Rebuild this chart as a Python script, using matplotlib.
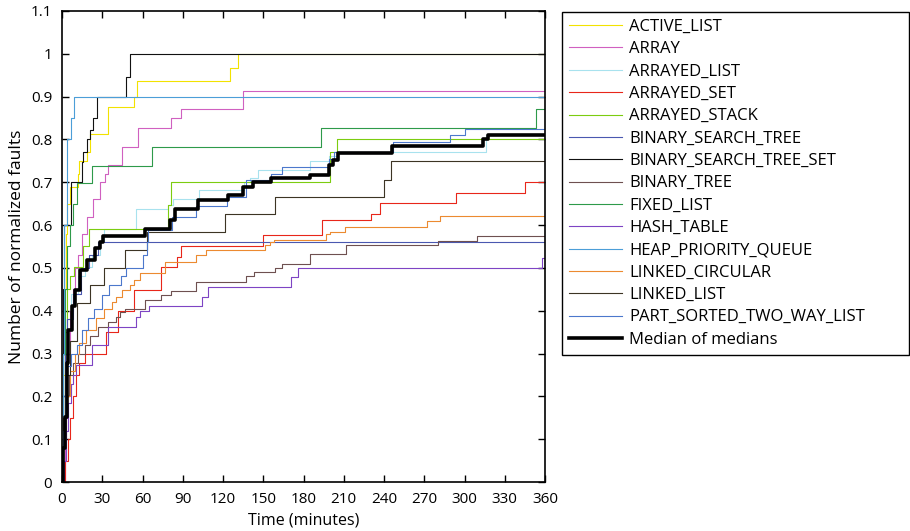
import numpy as np
import matplotlib
matplotlib.use("Agg")
import matplotlib.pyplot as plt
from matplotlib.ticker import FormatStrFormatter

plt.rcParams['font.family'] = ['Open Sans', 'DejaVu Sans']

# ------------------------------------------------------
# data, time in minutes
# ------------------------------------------------------

names = [
    "ACTIVE_LIST",
    "ARRAY",
    "ARRAYED_LIST",
    "ARRAYED_SET",
    "ARRAYED_STACK",
    "BINARY_SEARCH_TREE",
    "BINARY_SEARCH_TREE_SET",
    "BINARY_TREE",
    "FIXED_LIST",
    "HASH_TABLE",
    "HEAP_PRIORITY_QUEUE",
    "LINKED_CIRCULAR",
    "LINKED_LIST",
    "PART_SORTED_TWO_WAY_LIST",
]

active_list_t = [0, 1, 2, 3, 4, 6, 12, 13, 19, 21, 34, 54, 56, 125, 131, 360]
active_list_v = [0, 0.25, 0.45, 0.58, 0.65, 0.69, 0.72, 0.75, 0.77, 0.812, 0.875, 0.90, 0.937, 0.968, 1.0, 1.0]

array_t = [0, 2, 4, 6, 8, 10, 12, 15, 19, 23, 28, 32, 34, 45, 57, 81, 89, 135, 360]
array_v = [0, 0.15, 0.3, 0.4, 0.45, 0.5, 0.53, 0.58, 0.62, 0.66, 0.70, 0.72, 0.74, 0.783, 0.827, 0.849, 0.871, 0.914, 0.914]

arrayed_list_t = [0, 1, 2, 4, 7, 12, 17, 22, 28, 31, 55, 79, 83, 102, 136, 140, 146, 185, 199, 205, 316, 360]
arrayed_list_v = [0, 0.2, 0.3, 0.38, 0.44, 0.48, 0.503, 0.53, 0.56, 0.59, 0.637, 0.647, 0.661, 0.682, 0.70, 0.71, 0.729, 0.75, 0.762, 0.771, 0.81, 0.81]

arrayed_set_t = [0, 2, 4.3, 6, 8, 10.5, 13, 17, 33, 42, 54, 74, 86, 89, 150, 194, 230, 237, 294, 345, 360]
arrayed_set_v = [0, 0.05, 0.10, 0.15, 0.20, 0.25, 0.277, 0.30, 0.351, 0.40, 0.448, 0.503, 0.525, 0.55, 0.577, 0.612, 0.626, 0.651, 0.676, 0.70, 0.70]

arrayed_stack_t = [0, 1, 2, 4, 6, 9, 16, 20, 79, 81, 200, 204.7, 360]
arrayed_stack_v = [0, 0.2, 0.35, 0.45, 0.48, 0.503, 0.55, 0.59, 0.647, 0.70, 0.77, 0.80, 0.80]

bst_t = [0, 1, 2, 4, 8, 14, 20, 27, 360]
bst_v = [0, 0.2, 0.3, 0.38, 0.44, 0.5, 0.53, 0.561, 0.561]

bst_set_t = [0, 0.5, 1.5, 6.7, 14.6, 16, 18.4, 21, 23, 25.8, 47.7, 51, 360]
bst_set_v = [0, 0.45, 0.6, 0.70, 0.748, 0.77, 0.80, 0.822, 0.85, 0.90, 0.947, 1.0, 1.0]

binary_tree_t = [0, 1, 3, 5, 8, 12, 17, 21, 27, 34.5, 40, 43, 47, 62, 74, 81, 100, 137, 143, 159, 164, 185, 212, 280, 309, 360]
binary_tree_v = [0, 0.1, 0.2, 0.25, 0.277, 0.30, 0.32, 0.34, 0.363, 0.374, 0.386, 0.398, 0.404, 0.425, 0.437, 0.447, 0.468, 0.48, 0.49, 0.50, 0.51, 0.532, 0.553, 0.564, 0.575, 0.575]

fixed_list_t = [0, 1, 2, 4, 6, 8, 11, 22, 67, 193, 353, 360]
fixed_list_v = [0, 0.3, 0.45, 0.55, 0.6, 0.65, 0.698, 0.739, 0.783, 0.826, 0.87, 0.87]

hash_table_t = [0, 1.5, 3, 4.5, 6.5, 8, 10.5, 22, 34, 55, 58, 65, 104, 109, 171, 176, 358, 360]
hash_table_v = [0, 0.05, 0.12, 0.184, 0.23, 0.25, 0.273, 0.32, 0.363, 0.386, 0.40, 0.41, 0.433, 0.456, 0.478, 0.50, 0.524, 0.524]

heap_pq_t = [0, 0.5, 1.5, 3.5, 7, 9.2, 360]
heap_pq_v = [0, 0.3, 0.6, 0.8, 0.85, 0.9, 0.9]

linked_circular_t = [0, 1, 2.2, 6, 10, 13, 18, 25, 31, 37, 40, 45, 51, 54, 58, 77, 100, 107, 151, 155, 158, 197, 200, 211, 272, 282, 360]
linked_circular_v = [0, 0.1, 0.2, 0.26, 0.30, 0.324, 0.355, 0.382, 0.405, 0.421, 0.433, 0.448, 0.46, 0.472, 0.487, 0.513, 0.53, 0.542, 0.553, 0.56, 0.565, 0.58, 0.585, 0.595, 0.61, 0.621, 0.621]

linked_list_t = [0, 1, 3, 6, 11, 21, 31.5, 47, 63, 121.5, 159, 240, 245, 360]
linked_list_v = [0, 0.15, 0.25, 0.33, 0.419, 0.46, 0.50, 0.542, 0.585, 0.625, 0.666, 0.705, 0.75, 0.75]

part_sorted_t = [0, 1, 2, 4, 7, 11, 14.7, 19.6, 24, 30, 35, 44, 48, 60, 63, 64, 82, 100, 123, 137, 156, 164, 199, 203, 247, 289, 300, 360]
part_sorted_v = [0, 0.12, 0.2, 0.27, 0.3, 0.32, 0.355, 0.382, 0.405, 0.437, 0.46, 0.48, 0.50, 0.53, 0.561, 0.588, 0.618, 0.645, 0.666, 0.705, 0.72, 0.735, 0.755, 0.771, 0.795, 0.81, 0.824, 0.824]

median_t = [0, 1, 2.2, 3.5, 4.7, 7.2, 9.7, 13.4, 18.4, 24.6, 28.3, 30.8, 62, 80.5, 84, 101.6, 124, 135, 142.6, 156, 185, 199, 202, 206, 245.7, 314, 317.8, 360]
median_v = [0, 0.08, 0.152, 0.277, 0.355, 0.41, 0.448, 0.495, 0.518, 0.546, 0.561, 0.574, 0.59, 0.612, 0.637, 0.659, 0.67, 0.69, 0.70, 0.711, 0.717, 0.74, 0.752, 0.769, 0.785, 0.80, 0.81, 0.81]

series = [
    (active_list_t, active_list_v),
    (array_t, array_v),
    (arrayed_list_t, arrayed_list_v),
    (arrayed_set_t, arrayed_set_v),
    (arrayed_stack_t, arrayed_stack_v),
    (bst_t, bst_v),
    (bst_set_t, bst_set_v),
    (binary_tree_t, binary_tree_v),
    (fixed_list_t, fixed_list_v),
    (hash_table_t, hash_table_v),
    (heap_pq_t, heap_pq_v),
    (linked_circular_t, linked_circular_v),
    (linked_list_t, linked_list_v),
    (part_sorted_t, part_sorted_v),
]

colors = [
    "#f2e200", "#d060c0", "#a8e2ee", "#e8261a", "#7ccc10",
    "#4a58b0", "#111111", "#6e5050", "#2e9a4a", "#7e44c4",
    "#4c9ed8", "#ec8a30", "#3c3424", "#4c78cc",
]

# ======================================================
# figure
# ======================================================

fig = plt.figure(figsize=(9.1, 5.31), dpi=100)
ax = fig.add_axes([62 / 910, 1 - 482 / 531, 483 / 910, 471 / 531])

for (t, v), name, c in zip(series, names, colors):
    ax.plot(t, v, drawstyle="steps-post", color=c, lw=0.8, label=name)

ax.plot(median_t, median_v, drawstyle="steps-post", color="black",
        lw=2.6, label="Median of medians")

ax.set_xlim(0, 360)
ax.set_ylim(0, 1.1)
ax.set_xticks(np.arange(0, 361, 30))
ax.set_yticks(np.arange(0, 1.101, 0.1))
ax.yaxis.set_major_formatter(FormatStrFormatter("%g"))

ax.tick_params(direction="in", top=True, right=True, length=5,
               width=1, labelsize=11, pad=7)
for s in ax.spines.values():
    s.set_linewidth(1.2)

ax.set_xlabel("Time (minutes)", fontsize=11.5, labelpad=4)
ax.set_ylabel("Number of normalized faults", fontsize=12.5, labelpad=4)

# legend box spans x 562-909, y 12-352 px in the reference
leg = ax.legend(loc="upper left",
                bbox_to_anchor=(562 / 910, 1 - 352 / 531, 347 / 910, 340 / 531),
                bbox_transform=fig.transFigure, mode="expand",
                borderaxespad=0, fancybox=False, framealpha=1,
                edgecolor="black", fontsize=12, handlelength=3.2,
                handletextpad=0.4, labelspacing=0.38, borderpad=0.42)
leg.get_frame().set_linewidth(1.0)

fig.savefig("out.png", dpi=100)
